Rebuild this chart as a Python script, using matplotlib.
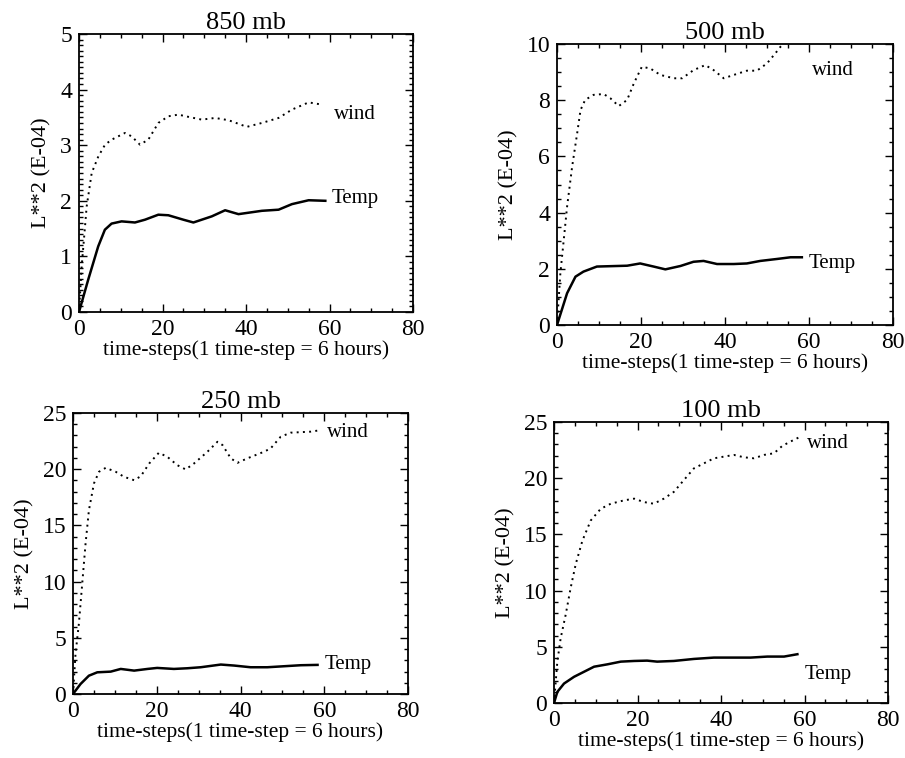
import matplotlib
matplotlib.use("Agg")
import matplotlib.pyplot as plt
from matplotlib.ticker import MultipleLocator

plt.rcParams['font.family'] = ['Liberation Serif', 'DejaVu Serif']

# ---- data (time-step, L**2 in units of 1E-04) ----
# 850 mb
t_temp_850 = [0, 2.2, 4.6, 6.2, 7.8, 10.2, 13.4, 15.8, 19.0, 21.4, 25.0, 27.4, 31.8,
              35.0, 38.2, 43.8, 47.8, 51.0, 55.0, 59.0]
temp_850 = [0, 0.58, 1.18, 1.48, 1.59, 1.63, 1.61, 1.66, 1.75, 1.74, 1.66, 1.61, 1.72,
            1.83, 1.76, 1.82, 1.84, 1.94, 2.01, 2.00]
t_wind_850 = [0, 0.64, 1.84, 3.04, 4.64, 6.24, 7.84, 11.0, 12.6, 14.6, 16.6, 19.0, 21.4,
              23.8, 26.2, 29.4, 32.6, 35.8, 40.2, 43.8, 47.8, 51.0, 55.0, 58.2]
wind_850 = [0, 0.82, 1.90, 2.50, 2.80, 3.01, 3.10, 3.22, 3.16, 3.01, 3.10, 3.40, 3.52,
            3.55, 3.51, 3.46, 3.49, 3.45, 3.33, 3.40, 3.49, 3.64, 3.77, 3.73]

# 500 mb
t_temp_500 = [0, 2.4, 4.4, 6.3, 9.5, 16.7, 19.8, 23.0, 25.8, 29.4, 32.5, 34.9, 38.1,
              42.1, 45.2, 48.4, 52.4, 55.6, 58.3]
temp_500 = [0, 1.13, 1.72, 1.90, 2.08, 2.11, 2.19, 2.08, 1.98, 2.10, 2.25, 2.28, 2.17,
            2.17, 2.19, 2.28, 2.35, 2.41, 2.41]
t_wind_500 = [0, 0.8, 1.6, 2.4, 3.6, 4.8, 5.6, 6.7, 8.7, 11.1, 12.7, 14.7, 16.7, 18.3,
              20.2, 22.2, 24.6, 27.8, 29.8, 32.5, 35.3, 37.3, 39.7, 42.1, 45.2, 47.6,
              50.0, 52.0, 53.2, 56.0, 59.0]
wind_500 = [0, 1.84, 3.02, 4.21, 5.63, 6.82, 7.65, 8.01, 8.19, 8.22, 8.07, 7.79, 8.01,
            8.60, 9.19, 9.13, 8.90, 8.78, 8.78, 9.07, 9.25, 9.07, 8.78, 8.90, 9.05, 9.05,
            9.31, 9.67, 9.90, 10.3, 10.5]

# 250 mb
t_temp_250 = [0, 1.8, 3.8, 5.8, 9.0, 11.4, 14.6, 17.8, 20.1, 24.1, 27.3, 30.5, 35.3,
              38.5, 42.4, 46.4, 50.4, 54.4, 58.4]
temp_250 = [0, 0.89, 1.63, 1.93, 1.99, 2.23, 2.08, 2.23, 2.32, 2.23, 2.29, 2.38, 2.62,
            2.53, 2.38, 2.38, 2.47, 2.56, 2.59]
t_wind_250 = [0, 0.6, 1.4, 2.2, 3.0, 3.8, 5.0, 6.2, 7.8, 10.2, 12.2, 14.6, 16.2, 18.2,
              20.5, 22.5, 24.9, 26.9, 28.9, 32.1, 34.5, 35.7, 37.7, 39.3, 41.6, 45.6,
              47.2, 49.6, 52.0, 56.8, 59.2]
wind_250 = [0, 3.57, 6.24, 9.81, 13.38, 16.35, 18.73, 19.77, 20.12, 19.77, 19.32, 19.02,
            19.38, 20.51, 21.46, 21.11, 20.36, 19.98, 20.51, 21.55, 22.44, 22.15, 20.96,
            20.57, 20.96, 21.55, 21.85, 22.89, 23.25, 23.34, 23.48]

# 100 mb
t_temp_100 = [0, 0.8, 2.4, 4.8, 7.2, 9.6, 12.8, 16.0, 19.2, 22.3, 24.7, 28.7, 33.5,
              38.3, 43.1, 47.1, 51.1, 55.1, 58.3]
temp_100 = [0, 0.99, 1.73, 2.33, 2.78, 3.23, 3.44, 3.68, 3.74, 3.77, 3.68, 3.74, 3.92,
            4.04, 4.04, 4.04, 4.13, 4.13, 4.34]
t_wind_100 = [0, 0.8, 1.6, 2.8, 4.0, 5.2, 6.8, 8.8, 11.2, 13.6, 16.8, 19.2, 21.5, 23.9,
              26.3, 28.7, 31.1, 33.5, 35.9, 38.3, 40.7, 43.1, 45.5, 47.9, 50.3, 52.7,
              54.7, 56.7, 59.1]
wind_100 = [0, 3.68, 5.77, 7.86, 10.26, 12.35, 14.44, 16.24, 17.28, 17.73, 18.03, 18.18,
            17.88, 17.73, 18.18, 18.78, 19.83, 20.87, 21.32, 21.77, 21.92, 22.07, 21.86,
            21.77, 22.07, 22.22, 22.88, 23.27, 23.71]

W, H = 905, 758
fig = plt.figure(figsize=(W / 100, H / 100), dpi=100)


def make_axes(l, t, r, b):
    # pixel box -> figure fraction
    return fig.add_axes([l / W, 1 - b / H, (r - l) / W, (b - t) / H])


def draw_panel(ax, title, tt, temp, tw, wind, ymax, ymajor, yminor, wind_xy, temp_xy):
    ax.plot(tw, wind, color='black', linewidth=1.4, linestyle=(0, (1, 2.2)))
    ax.plot(tt, temp, color='black', linewidth=1.8, solid_joinstyle='round')
    ax.set_xlim(0, 80)
    ax.set_ylim(0, ymax)
    ax.xaxis.set_major_locator(MultipleLocator(20))
    ax.xaxis.set_minor_locator(MultipleLocator(5))
    ax.yaxis.set_major_locator(MultipleLocator(ymajor))
    ax.yaxis.set_minor_locator(MultipleLocator(yminor))
    ax.tick_params(which='both', direction='in', top=True, right=True,
                   labelsize=17, pad=5, width=1)
    ax.tick_params(which='major', length=6)
    ax.tick_params(which='minor', length=3)
    for sp in ax.spines.values():
        sp.set_linewidth(1.3)
    ax.set_title(title, fontsize=19, pad=2)
    ax.set_xlabel("time-steps(1 time-step = 6 hours)", fontsize=15.5, labelpad=0)
    ax.set_ylabel("L**2 (E-04)", fontsize=16, labelpad=6)
    ax.text(wind_xy[0], wind_xy[1], "wind", fontsize=15, ha='left', va='center')
    ax.text(temp_xy[0], temp_xy[1], "Temp", fontsize=15, ha='left', va='center')


ax1 = make_axes(79, 34, 413, 312)
draw_panel(ax1, "850 mb", t_temp_850, temp_850, t_wind_850, wind_850,
           5, 1, 0.1, (61, 3.55), (60.5, 2.05))

ax2 = make_axes(557, 44, 893, 325)
draw_panel(ax2, "500 mb", t_temp_500, temp_500, t_wind_500, wind_500,
           10, 2, 0.5, (60.7, 9.05), (60, 2.2))

ax3 = make_axes(73, 413, 408, 694)
draw_panel(ax3, "250 mb", t_temp_250, temp_250, t_wind_250, wind_250,
           25, 5, 1, (60.7, 23.3), (60, 2.65))

ax4 = make_axes(554, 422, 888, 703)
draw_panel(ax4, "100 mb", t_temp_100, temp_100, t_wind_100, wind_100,
           25, 5, 1, (60.7, 23.1), (60, 2.5))

fig.savefig("out.png", dpi=100)
